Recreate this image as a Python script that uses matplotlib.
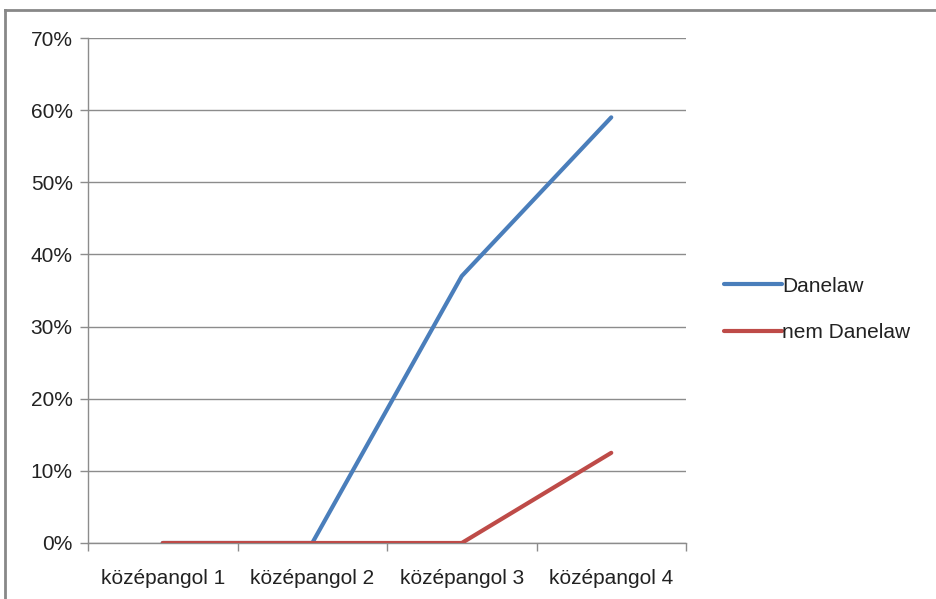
"""Danelaw vs nem Danelaw line chart, Excel style"""
import matplotlib.pyplot as plt
from matplotlib.lines import Line2D
from matplotlib.ticker import FuncFormatter, FixedLocator

CATEGORIES = ["középangol 1", "középangol 2", "középangol 3", "középangol 4"]
DANELAW = [0, 0, 37, 59]
NEM_DANELAW = [0, 0, 0, 12.5]
Y_TICKS = [0, 10, 20, 30, 40, 50, 60, 70]

plt.rcParams['font.family'] = ['Liberation Sans', 'DejaVu Sans']

W, H = 936, 599
fig = plt.figure(figsize=(W / 100, H / 100), dpi=100, facecolor='w')
ax = fig.add_axes([88 / W, (H - 543) / H, (686 - 88) / W, (543 - 38) / H])

grid_col = '#8c8c8c'
x = range(len(CATEGORIES))
ax.plot(x, DANELAW, color='#4A7EBB', lw=3, solid_capstyle='round', label='Danelaw', zorder=3)
ax.plot(x, NEM_DANELAW, color='#BE4B48', lw=3, solid_capstyle='round', label='nem Danelaw', zorder=3)

ax.set_xlim(-0.5, len(CATEGORIES) - 0.5)
ax.set_ylim(0, 70)
ax.set_yticks(Y_TICKS)
ax.yaxis.set_major_formatter(FuncFormatter(lambda v, p: f"{v:.0f}%"))
ax.grid(axis='y', color=grid_col, lw=1)
ax.set_axisbelow(True)

ax.set_xticks(list(x))
ax.set_xticklabels(CATEGORIES)
ax.xaxis.set_minor_locator(FixedLocator([i - 0.5 for i in range(len(CATEGORIES) + 1)]))
ax.tick_params(axis='x', which='major', length=0, pad=19, labelsize=15, colors='#222222')
ax.tick_params(axis='x', which='minor', length=6, color=grid_col, width=1)
ax.tick_params(axis='y', length=6, color=grid_col, width=1, labelsize=15, labelcolor='#222222', pad=5)

for side in ['top', 'right']:
    ax.spines[side].set_visible(False)
for side in ['left', 'bottom']:
    ax.spines[side].set_color(grid_col)
    ax.spines[side].set_linewidth(1)

handles = [Line2D([], [], color='#4A7EBB', lw=3, solid_capstyle='round'),
           Line2D([], [], color='#BE4B48', lw=3, solid_capstyle='round')]
fig.legend(handles, ['Danelaw', 'nem Danelaw'], loc='upper left',
           bbox_to_anchor=(705 / W, 1 - 258 / H), frameon=False, fontsize=15,
           handlelength=2.8, handletextpad=0.0, labelspacing=1.3, labelcolor='#222222')

# outer chart border (left and top visible)
fig.add_artist(Line2D([5 / W, 5 / W], [0, 1 - 10 / H], color='#888888', lw=2))
fig.add_artist(Line2D([5 / W, 1], [1 - 10 / H, 1 - 10 / H], color='#888888', lw=2))

fig.savefig("out.png", dpi=100)
